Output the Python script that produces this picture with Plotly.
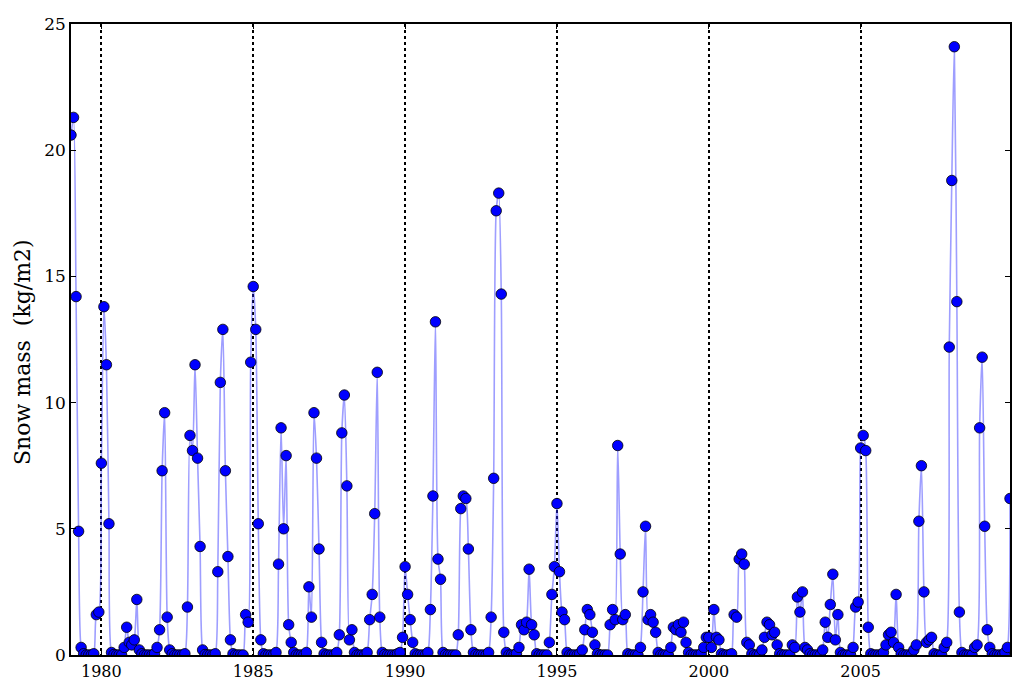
import plotly.graph_objects as go

# Monthly snow mass (kg/m2), Jan..Dec for each year
y1979 = [20.6, 21.3, 14.2, 4.9, 0.3, 0.05, 0, 0, 0, 0.05, 1.6, 1.7]
y1980 = [7.6, 13.8, 11.5, 5.2, 0.1, 0.02, 0, 0, 0, 0.3, 1.1, 0.5]
y1981 = [0.4, 0.6, 2.2, 0.2, 0.05, 0, 0, 0, 0, 0.05, 0.3, 1.0]
y1982 = [7.3, 9.6, 1.5, 0.2, 0.05, 0, 0, 0, 0, 0.05, 1.9, 8.7]
y1983 = [8.1, 11.5, 7.8, 4.3, 0.2, 0.02, 0, 0, 0, 0.05, 3.3, 10.8]
y1984 = [12.9, 7.3, 3.9, 0.6, 0.05, 0, 0, 0, 0, 1.6, 1.3, 11.6]
y1985 = [14.6, 12.9, 5.2, 0.6, 0.05, 0, 0, 0, 0, 0.1, 3.6, 9.0]
y1986 = [5.0, 7.9, 1.2, 0.5, 0.1, 0, 0, 0, 0, 0.1, 2.7, 1.5]
y1987 = [9.6, 7.8, 4.2, 0.5, 0.05, 0, 0, 0, 0, 0.1, 0.8, 8.8]
y1988 = [10.3, 6.7, 0.6, 1.0, 0.1, 0, 0, 0, 0, 0.1, 1.4, 2.4]
y1989 = [5.6, 11.2, 1.5, 0.1, 0.02, 0, 0, 0, 0, 0.05, 0.1, 0.7]
y1990 = [3.5, 2.4, 1.4, 0.5, 0.05, 0, 0, 0, 0, 0.1, 1.8, 6.3]
y1991 = [13.2, 3.8, 3.0, 0.1, 0.02, 0, 0, 0, 0, 0.8, 5.8, 6.3]
y1992 = [6.2, 4.2, 1.0, 0.1, 0.02, 0, 0, 0, 0, 0.1, 1.5, 7.0]
y1993 = [17.6, 18.3, 14.3, 0.9, 0.1, 0, 0, 0, 0.05, 0.3, 1.2, 1.0]
y1994 = [1.3, 3.4, 1.2, 0.8, 0.05, 0, 0, 0, 0, 0.5, 2.4, 3.5]
y1995 = [6.0, 3.3, 1.7, 1.4, 0.1, 0, 0, 0, 0, 0.05, 0.2, 1.0]
y1996 = [1.8, 1.6, 0.9, 0.4, 0.05, 0, 0, 0, 0, 1.2, 1.8, 1.4]
y1997 = [8.3, 4.0, 1.4, 1.6, 0.05, 0, 0, 0, 0, 0.3, 2.5, 5.1]
y1998 = [1.4, 1.6, 1.3, 0.9, 0.1, 0, 0, 0, 0, 0.3, 1.1, 1.0]
y1999 = [1.2, 0.9, 1.3, 0.5, 0.1, 0, 0, 0, 0, 0.05, 0.3, 0.7]
y2000 = [0.7, 0.3, 1.8, 0.7, 0.6, 0.05, 0, 0, 0, 0.05, 1.6, 1.5]
y2001 = [3.8, 4.0, 3.6, 0.5, 0.4, 0.05, 0, 0, 0, 0.2, 0.7, 1.3]
y2002 = [1.2, 0.8, 0.9, 0.4, 0.05, 0, 0, 0, 0, 0.4, 0.3, 2.3]
y2003 = [1.7, 2.5, 0.3, 0.2, 0.05, 0, 0, 0, 0, 0.2, 1.3, 0.7]
y2004 = [2.0, 3.2, 0.6, 1.6, 0.1, 0, 0, 0, 0, 0.3, 1.9, 2.1]
y2005 = [8.2, 8.7, 8.1, 1.1, 0.05, 0, 0, 0, 0, 0.1, 0.4, 0.8]
y2006 = [0.9, 0.5, 2.4, 0.3, 0.05, 0, 0, 0, 0, 0.2, 0.4, 5.3]
y2007 = [7.5, 2.5, 0.5, 0.6, 0.7, 0.05, 0, 0, 0, 0.3, 0.5, 12.2]
y2008 = [18.8, 24.1, 14.0, 1.7, 0.1, 0, 0, 0, 0, 0.3, 0.4, 9.0]
y2009 = [11.8, 5.1, 1.0, 0.3, 0.05, 0, 0, 0, 0, 0.1, 0.3, 6.2]

years = list(range(1979, 2010))
yearly = [y1979, y1980, y1981, y1982, y1983, y1984, y1985, y1986, y1987, y1988,
          y1989, y1990, y1991, y1992, y1993, y1994, y1995, y1996, y1997, y1998,
          y1999, y2000, y2001, y2002, y2003, y2004, y2005, y2006, y2007, y2008,
          y2009]

x_time = []
snow = []
for yr, vals in zip(years, yearly):
    for m, v in enumerate(vals):
        x_time.append(yr + m / 12.0)
        snow.append(v)

x_ticks = [1980, 1985, 1990, 1995, 2000, 2005]
y_ticks = [0, 5, 10, 15, 20, 25]
y_title = "Snow mass\u00a0 (kg/m2)"

fig = go.Figure()
fig.add_trace(go.Scatter(
    x=x_time, y=snow, mode="lines",
    line=dict(color="rgba(40,40,255,0.45)", width=1.6, shape="spline", smoothing=0.7),
    hoverinfo="skip", showlegend=False,
))
fig.add_trace(go.Scatter(
    x=x_time, y=snow, mode="markers",
    marker=dict(color="#0000ff", size=10.5, line=dict(color="black", width=0.8)),
    showlegend=False,
))

font_family = "DejaVu Serif"
fig.update_layout(
    width=1024, height=684,
    margin=dict(l=71, r=14, t=24, b=29, autoexpand=False),
    paper_bgcolor="white", plot_bgcolor="white",
    font=dict(family=font_family, size=17, color="black"),
)
fig.update_xaxes(
    range=[1979, 2009 + 11 / 12], tickvals=x_ticks, ticktext=[str(t) for t in x_ticks],
    showgrid=True, gridcolor="black", griddash="dot", gridwidth=1.5,
    showline=True, linecolor="black", linewidth=1.5, mirror="ticks",
    ticks="inside", ticklen=5, tickcolor="black", zeroline=False,
    tickfont=dict(family=font_family, size=16), ticklabelstandoff=1,
    automargin=False,
)
fig.update_yaxes(
    range=[0, 25], tickvals=y_ticks,
    showgrid=False, zeroline=False,
    showline=True, linecolor="black", linewidth=1.5, mirror="ticks",
    ticks="inside", ticklen=5, tickcolor="black",
    tickfont=dict(family=font_family, size=17),
    automargin=False,
)
fig.add_annotation(
    text=y_title, textangle=-90, showarrow=False,
    xref="paper", yref="paper",
    x=(22 - 71) / (1010 - 71), y=(655 - 352) / (655 - 24),
    xanchor="center", yanchor="middle",
    font=dict(family=font_family, size=22, color="black"),
)

# remove the default 8px page margin so the figure fills the 1024x684 window exactly
fig.write_html("out.html", config={"displayModeBar": False},
               post_script="document.body.style.margin='0';")
